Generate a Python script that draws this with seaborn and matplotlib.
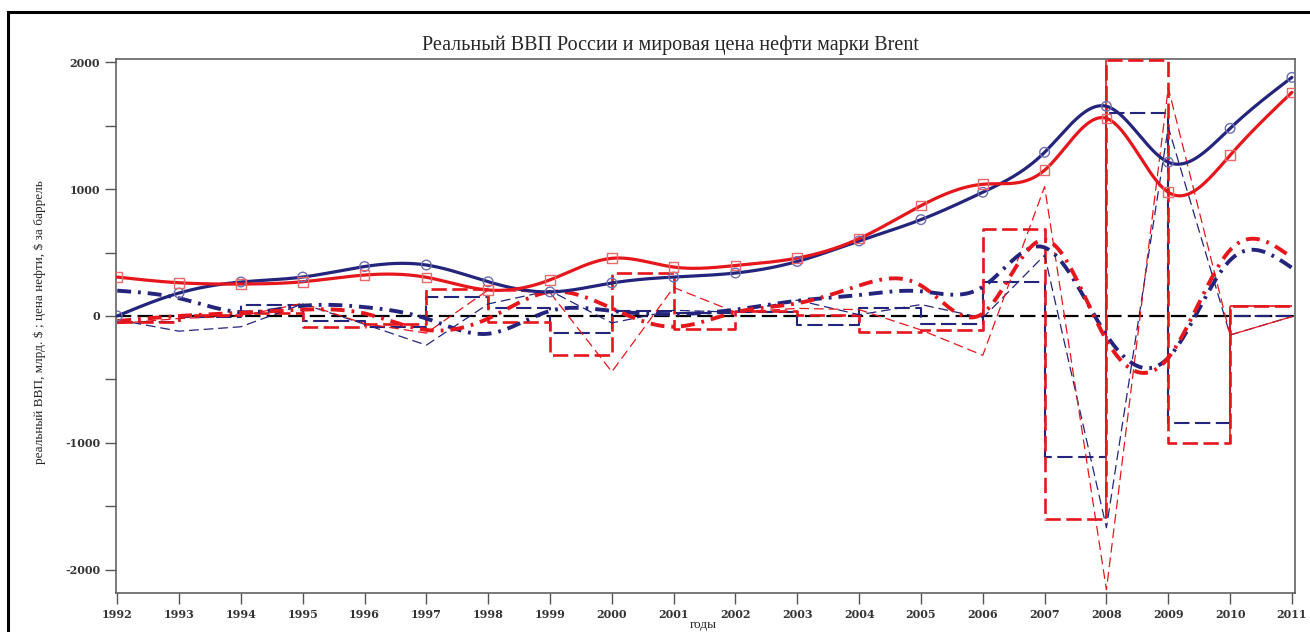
import numpy as np
import pandas as pd
import matplotlib
matplotlib.use("Agg")
import matplotlib.pyplot as plt
import matplotlib.patches as mpatches
from matplotlib.ticker import MultipleLocator
import seaborn as sns

# ---- data -------------------------------------------------------------
years = list(range(1992, 2012))

# real GDP, bln $
gdp = [0, 181, 268, 307, 390, 402, 270, 190, 260, 307, 339, 430, 592, 760, 976, 1291, 1654, 1213, 1480, 1882]
# Brent price (scaled)
oil = [307, 262, 252, 270, 323, 305, 205, 285, 455, 386, 398, 457, 610, 870, 1039, 1150, 1559, 976, 1268, 1764]

# step series
gdp_step = [-45, -10, 87, -40, -85, 150, 60, -135, 40, 20, 30, -70, 60, -60, 265, -1110, 1600, -845, 0, 0]
oil_step = [-45, 8, 24, -85, -60, 210, -45, -310, 340, -105, 40, 10, -130, -110, 690, -1600, 2020, -1000, 75, 75]

# thin dashed series
gdp_thin = [-30, -120, -85, 95, -65, -230, 95, 200, -55, 45, 30, 125, 10, 90, -15, 480, -1670, 1490, -150, -5]
oil_thin = [-60, -20, 0, 100, -60, -135, 205, 185, -440, 225, 30, 60, 50, -110, -310, 1020, -2160, 1800, -150, -5]

# dash-dot smoothed series
gdp_dd = [200, 140, 30, 80, 70, -20, -140, 40, 40, 15, 50, 120, 165, 195, 230, 540, -150, -330, 440, 380]
oil_dd = [-40, 0, 25, 50, 20, -110, -20, 190, 60, -85, 30, 100, 240, 240, 20, 600, -190, -330, 520, 460]

title = "Реальный ВВП России и мировая цена нефти марки Brent"
ylabel = "реальный ВВП, млрд. \\$ ; цена нефти, \\$ за баррель"
xlabel = "годы"

NAVY = "#24247c"
RED = "#e5161c"


def natural_spline(x, y, num=800):
    """Natural cubic spline through (x, y), sampled on a dense grid."""
    x = np.asarray(x, float)
    y = np.asarray(y, float)
    n = len(x)
    h = np.diff(x)
    A = np.zeros((n, n))
    r = np.zeros(n)
    A[0, 0] = A[-1, -1] = 1.0
    for i in range(1, n - 1):
        A[i, i - 1] = h[i - 1]
        A[i, i] = 2 * (h[i - 1] + h[i])
        A[i, i + 1] = h[i]
        r[i] = 6 * ((y[i + 1] - y[i]) / h[i] - (y[i] - y[i - 1]) / h[i - 1])
    M = np.linalg.solve(A, r)
    xs = np.linspace(x[0], x[-1], num)
    k = np.clip(np.searchsorted(x, xs) - 1, 0, n - 2)
    hk = h[k]
    a = (x[k + 1] - xs) / hk
    b = (xs - x[k]) / hk
    ys = (a * y[k] + b * y[k + 1]
          + ((a ** 3 - a) * M[k] + (b ** 3 - b) * M[k + 1]) * hk ** 2 / 6)
    return xs, ys


sns.set_style("white")
plt.rcParams["font.family"] = ["Liberation Serif", "DejaVu Serif"]
plt.rcParams["lines.scale_dashes"] = False

W, H = 1310, 632
fig = plt.figure(figsize=(W / 100, H / 100), dpi=100)
ax = fig.add_axes([116 / W, 1 - 593 / H, (1295 - 116) / W, (593 - 59) / H])

df = pd.DataFrame({"year": years, "gdp": gdp, "oil": oil,
                   "gdp_step": gdp_step, "oil_step": oil_step,
                   "gdp_thin": gdp_thin, "oil_thin": oil_thin})

# zero reference
ax.axhline(0, color="black", lw=1.6, dashes=(11, 4.5), zorder=2)

# step lines
sns.lineplot(data=df, x="year", y="gdp_step", ax=ax, color=NAVY, lw=1.5,
             drawstyle="steps-post", zorder=3)
ax.lines[-1].set_dashes((11, 4))
sns.lineplot(data=df, x="year", y="oil_step", ax=ax, color=RED, lw=1.9,
             drawstyle="steps-post", zorder=3)
ax.lines[-1].set_dashes((11, 4))
# solid parts of the oil step line (jumps of 2008 and 2010, last interval)
i08, i10 = years.index(2008), years.index(2010)
ax.vlines([2008, 2010], [oil_step[i08 - 1], oil_step[i10 - 1]],
          [oil_step[i08], oil_step[i10]], color=RED, lw=1.2, zorder=3)
ax.hlines(oil_step[i10], 2010, 2011, color=RED, lw=1.2, zorder=3)

# thin dashed polylines
sns.lineplot(data=df, x="year", y="gdp_thin", ax=ax, color=NAVY, lw=0.9, zorder=3)
ax.lines[-1].set_dashes((7, 3.5))
sns.lineplot(data=df.iloc[:-1], x="year", y="oil_thin", ax=ax, color=RED, lw=0.9, zorder=3)
ax.lines[-1].set_dashes((7, 3.5))
sns.lineplot(data=df.iloc[-2:], x="year", y="oil_thin", ax=ax, color=RED, lw=0.9, zorder=3)

# smoothed dash-dot curves
for vals, col in ((gdp_dd, NAVY), (oil_dd, RED)):
    xs, ys = natural_spline(years, vals)
    sns.lineplot(x=xs, y=ys, ax=ax, color=col, lw=2.8, sort=False, zorder=4)
    ax.lines[-1].set_dashes((10, 5, 2, 5))

# levels
for vals, col, mk, mcol in ((gdp, NAVY, "o", "#6d6db0"), (oil, RED, "s", "#e86a6a")):
    xs, ys = natural_spline(years, vals)
    sns.lineplot(x=xs, y=ys, ax=ax, color=col, lw=2.3, sort=False, zorder=5)
    sns.scatterplot(x=years, y=vals, ax=ax, marker=mk, s=48, facecolor="none",
                    edgecolor=mcol, linewidth=1.0, zorder=6)

# axes
ax.set_xlim(1991.98, 2011.05)
ax.set_ylim(-2185, 2027)
ax.set_xticks(years)
ax.set_xticklabels([str(y) for y in years])
ax.yaxis.set_minor_locator(MultipleLocator(500))
ax.set_yticks([-2000, -1000, 0, 1000, 2000])
ax.set_yticklabels(["-2000", "-1000", "0", "1000", "2000"])
ax.tick_params(axis="both", which="both", direction="out", length=8,
               width=1.0, color="#555555", labelsize=8, labelcolor="#333333",
               left=True, bottom=True)
for lab in ax.get_xticklabels() + ax.get_yticklabels():
    lab.set_fontfamily("DejaVu Serif")
    lab.set_fontweight("bold")
for s in ax.spines.values():
    s.set_color("#555555")
    s.set_linewidth(1.1)
ax.set_xlabel("")
ax.set_ylabel("")

fig.text(670 / W, 1 - 45 / H, title, ha="center", va="center", fontsize=14.5)
fig.text(40 / W, 1 - 322 / H, ylabel, ha="center", va="center", rotation=90,
         fontsize=9.5)
fig.text(703 / W, 1 - 625 / H, xlabel, ha="center", va="center", fontsize=9.5)

# outer frame
fig.patches.append(mpatches.Rectangle((8 / W, -0.05), 1.05, 1 - 12 / H + 0.05,
                                      transform=fig.transFigure, fill=False,
                                      edgecolor="black", lw=2.2, zorder=10))

fig.savefig("out.png", dpi=100)
